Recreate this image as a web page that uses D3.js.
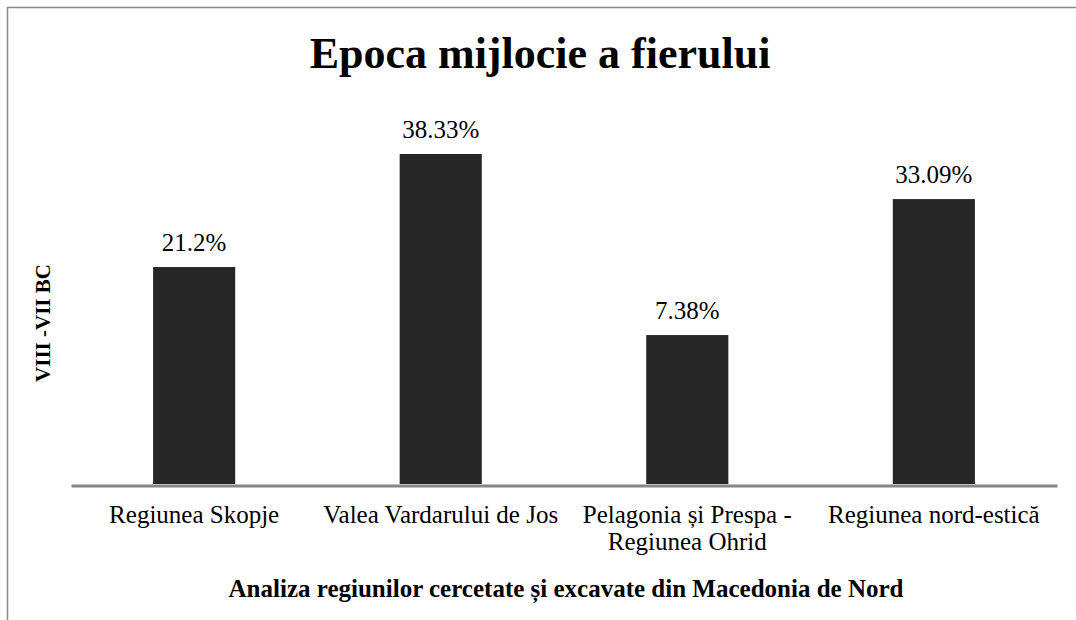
<!DOCTYPE html>
<html>
<head>
<meta charset="UTF-8">
<title>Epoca mijlocie a fierului</title>
<style>
  html, body { margin: 0; padding: 0; background: #fff; }
  svg { display: block; }
</style>
</head>
<body>
<div id="chart"></div>
<script src="https://cdnjs.cloudflare.com/ajax/libs/d3/7.8.2/d3.min.js"></script>
<script>
// chart data
var categories = ["Regiunea Skopje", "Valea Vardarului de Jos", "Pelagonia și Prespa - Regiunea Ohrid", "Regiunea nord-estică"];
var barValues = [25.2, 38.33, 17.3, 33.09];   // bar heights as drawn
var valueLabels = ["21.2%", "38.33%", "7.38%", "33.09%"];

var width = 1076, height = 620;
var font = "Liberation Serif";

var svg = d3.select("#chart")
  .append("svg")
  .attr("width", width)
  .attr("height", height);

// outer border (runs off the right and bottom edge)
svg.append("path")
  .attr("d", "M7.5," + (height + 5) + "V7.5H" + (width + 5))
  .attr("fill", "none")
  .attr("stroke", "#8a8a8a")
  .attr("stroke-width", 1.5);

var x = d3.scaleBand()
  .domain(categories)
  .range([71, 1057])
  .paddingInner(0.667)
  .paddingOuter(0.333);

var y = d3.scaleLinear()
  .domain([0, 40])
  .range([484, 484 - 344.4]);

// title
svg.append("text")
  .attr("x", 540)
  .attr("y", 68)
  .attr("text-anchor", "middle")
  .style("font-family", font)
  .style("font-weight", "bold")
  .style("font-size", "44px")
  .text("Epoca mijlocie a fierului");

// bars
svg.selectAll(".bar")
  .data(categories)
  .enter()
  .append("rect")
  .attr("class", "bar")
  .attr("x", function(d) { return x(d); })
  .attr("width", x.bandwidth())
  .attr("y", function(d, i) { return y(barValues[i]); })
  .attr("height", function(d, i) { return y(0) - y(barValues[i]); })
  .attr("fill", "#262626");

// value labels
svg.selectAll(".val")
  .data(categories)
  .enter()
  .append("text")
  .attr("class", "val")
  .attr("x", function(d) { return x(d) + x.bandwidth() / 2; })
  .attr("y", function(d, i) { return y(barValues[i]) - 16; })
  .attr("text-anchor", "middle")
  .style("font-family", font)
  .style("font-size", "25px")
  .attr("fill", "#000")
  .text(function(d, i) { return valueLabels[i]; });

// x axis
var xAxis = svg.append("g")
  .attr("transform", "translate(0," + 485.5 + ")")
  .call(d3.axisBottom(x).tickSize(0).tickSizeOuter(0));

xAxis.attr("font-family", null).attr("font-size", null);

xAxis.select(".domain")
  .attr("stroke", "#868686")
  .attr("stroke-width", 3);

xAxis.selectAll(".tick text")
  .style("font-family", font)
  .style("font-size", "25px")
  .attr("fill", "#000")
  .attr("y", 37.5)
  .attr("dy", 0)
  .each(function(d) { wrap(d3.select(this), 250); });

function wrap(text, maxWidth) {
  var words = text.text().split(" ");
  var lines = [], line = [];
  text.text(null);
  var probe = text.append("tspan");
  words.forEach(function(w) {
    line.push(w);
    probe.text(line.join(" "));
    if (probe.node().getComputedTextLength() > maxWidth && line.length > 1) {
      line.pop();
      lines.push(line.join(" "));
      line = [w];
    }
  });
  lines.push(line.join(" "));
  probe.remove();
  lines.forEach(function(l, i) {
    text.append("tspan")
      .attr("x", 0)
      .attr("dy", i === 0 ? 0 : 27)
      .text(l);
  });
}

// axis titles
svg.append("text")
  .attr("x", 566)
  .attr("y", 597)
  .attr("text-anchor", "middle")
  .style("font-family", font)
  .style("font-weight", "bold")
  .style("font-size", "25px")
  .text("Analiza regiunilor cercetate și excavate din Macedonia de Nord");

svg.append("text")
  .attr("transform", "translate(50,323) rotate(-90)")
  .attr("text-anchor", "middle")
  .style("font-family", font)
  .style("font-weight", "bold")
  .style("font-size", "21px")
  .text("VIII -VII BC");
</script>
</body>
</html>
